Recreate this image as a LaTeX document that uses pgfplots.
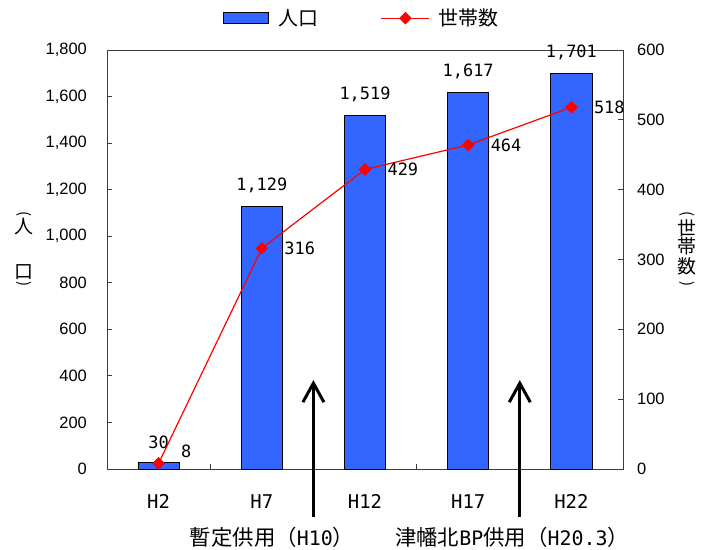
\documentclass[border=0pt]{standalone}
\usepackage{pgfplots}
\pgfplotsset{compat=1.18}
\usepackage{pgfplotstable}
\usepackage{graphicx}
\usepackage{fontspec}
\usetikzlibrary{arrows.meta}
\setmainfont{Noto Sans CJK JP}
\newfontfamily\mono{DejaVu Sans Mono}
\newfontfamily\arial{Liberation Sans}
\definecolor{barblue}{RGB}{51,102,255}
\definecolor{axgray}{RGB}{60,60,60}

\pgfplotsset{
  barlegend/.style={legend image code/.code={\draw[fill=barblue,draw=black,line width=0.8bp] (0bp,-5.5bp) rectangle (45bp,5.5bp);}},
  hhlegend/.style={legend image code/.code={\draw[red,line width=1bp] (0bp,0bp) -- (48bp,0bp);
     \fill[red] (24bp,5.5bp) -- (29.5bp,0bp) -- (24bp,-5.5bp) -- (18.5bp,0bp) -- cycle;}},
}

\pgfplotstableread{
x y
0 30
1 1129
2 1519
3 1617
4 1701
}\popdata

\pgfplotstableread{
x y dy
0 8 12
1 316 0
2 429 0
3 464 0
4 518 0
}\hhdata

\begin{document}
\begin{tikzpicture}
\useasboundingbox (0bp,0bp) rectangle (708bp,550bp);
% left axis: population (bars)
\begin{axis}[
  name=main,
  at={(107bp,81bp)}, anchor=south west,
  scale only axis, width=516bp, height=419bp,
  xmin=-0.5, xmax=4.5, ymin=0, ymax=1800,
  ytick={0,200,...,1800},
  xtick={0.5,1.5,2.5,3.5}, xticklabels={,,,},
  extra x ticks={0,1,2,3,4},
  extra x tick labels={H2,H7,H12,H17,H22},
  extra x tick style={major tick length=0pt},
  xtick pos=bottom, ytick pos=left,
  tick align=inside, major tick length=5bp,
  axis line style={axgray, line width=0.8bp},
  tick style={axgray, line width=0.8bp},
  /pgf/number format/assume math mode=true,
  /pgf/number format/1000 sep={,},
  yticklabel style={font=\arial\fontsize{16.5}{16.5}\selectfont, anchor=east, inner sep=0pt, xshift=-20bp},
  xticklabel style={font=\mono\fontsize{19}{19}\selectfont, anchor=center, inner sep=0pt, yshift=-32.5bp},
  clip=false,
]
\addplot[ybar, bar width=0.4, fill=barblue, draw=black, line width=0.8bp,
  nodes near coords,
  every node near coord/.append style={font=\mono\fontsize{17}{17}\selectfont, anchor=south, inner sep=0pt, yshift=13bp, text=black}]
  table[x=x,y=y]{\popdata};
\draw[black, line width=3bp, -{Straight Barb[length=19bp, width=21bp, line width=3bp]}]
  (axis cs:1.5,-206) -- (axis cs:1.5,382);
\draw[black, line width=3bp, -{Straight Barb[length=19bp, width=21bp, line width=3bp]}]
  (axis cs:3.5,-206) -- (axis cs:3.5,382);
\end{axis}
% right axis: households (line)
\begin{axis}[
  at={(main.south west)}, anchor=south west,
  scale only axis, width=516bp, height=419bp,
  xmin=-0.5, xmax=4.5, ymin=0, ymax=600,
  ytick={0,100,...,600},
  axis x line=none, axis y line*=right,
  tick align=inside, major tick length=5bp,
  axis line style={axgray, line width=0.8bp},
  tick style={axgray, line width=0.8bp},
  /pgf/number format/assume math mode=true,
  yticklabel style={font=\arial\fontsize{16.5}{16.5}\selectfont, anchor=west, inner sep=0pt, xshift=14bp},
  clip=false,
  legend columns=2,
  legend style={draw=none, fill=none, inner sep=0pt, anchor=west, at={(0.225,1.076)},
    font=\fontsize{20}{20}\selectfont,
    nodes={inner sep=0pt},
    /tikz/every odd column/.append style={column sep=9bp},
    /tikz/every even column/.append style={column sep=63bp}},
]
\addlegendimage{barlegend}
\addlegendentry{人口}
\addplot[red, line width=1.2bp, mark=square*, mark size=3.9bp,
  mark options={rotate=45, fill=red, draw=red},
  hhlegend,
  visualization depends on={\thisrow{dy} \as \dy},
  nodes near coords,
  every node near coord/.append style={font=\mono\fontsize{17}{17}\selectfont, anchor=west, inner sep=0pt, xshift=22bp, yshift=\dy, text=black}]
  table[x=x,y=y]{\hhdata};
\addlegendentry{世帯数}
\end{axis}
% vertical axis titles
\node[font=\fontsize{15}{15}\selectfont, inner sep=0pt] at (24bp,335.5bp) {\rotatebox{-90}{(}};
\node[font=\fontsize{19}{19}\selectfont, inner sep=0pt] at (24bp,323.5bp) {人};
\node[font=\fontsize{19}{19}\selectfont, inner sep=0pt] at (24bp,277.5bp) {口};
\node[font=\fontsize{15}{15}\selectfont, inner sep=0pt] at (24bp,265.5bp) {\rotatebox{-90}{)}};
\node[font=\fontsize{15}{15}\selectfont, inner sep=0pt] at (687bp,335.5bp) {\rotatebox{-90}{(}};
\node[font=\fontsize{19}{19}\selectfont, inner sep=0pt] at (687bp,321.5bp) {世};
\node[font=\fontsize{19}{19}\selectfont, inner sep=0pt] at (687bp,303.5bp) {帯};
\node[font=\fontsize{19}{19}\selectfont, inner sep=0pt] at (687bp,284bp) {数};
\node[font=\fontsize{15}{15}\selectfont, inner sep=0pt] at (687bp,265.5bp) {\rotatebox{-90}{)}};
% annotations under the arrows
\node[inner sep=0pt, font=\fontsize{21.5}{21.5}\selectfont] at (272bp,13bp) {暫定供用（{\mono\fontsize{20}{20}\selectfont H10}）};
\node[inner sep=0pt, font=\fontsize{21.5}{21.5}\selectfont] at (512bp,13bp) {津幡北{\mono\fontsize{20}{20}\selectfont BP}供用（{\mono\fontsize{20}{20}\selectfont H20.3}）};
\end{tikzpicture}
\end{document}
